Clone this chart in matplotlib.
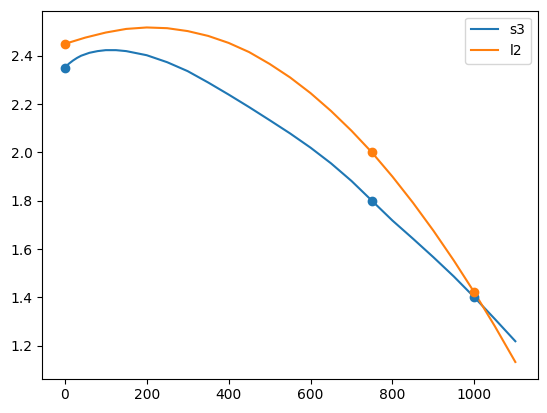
import matplotlib
matplotlib.use("Agg")
import matplotlib.pyplot as plt

# Curve values
s3_x = [0, 5, 10, 20, 30, 40, 60, 80, 100, 125, 150, 200, 250, 300, 350, 400,
        450, 500, 550, 600, 650, 700, 750, 800, 850, 900, 950, 1000, 1050, 1100]
s3_y = [2.35, 2.36, 2.368, 2.381, 2.392, 2.401, 2.413, 2.42, 2.424, 2.424,
        2.42, 2.403, 2.374, 2.337, 2.29, 2.24, 2.188, 2.134, 2.079, 2.02,
        1.955, 1.882, 1.80, 1.718, 1.643, 1.566, 1.486, 1.40, 1.31, 1.218]

l2_x = [0, 50, 100, 150, 200, 250, 300, 350, 400, 450, 500, 550, 600, 650, 700,
        750, 800, 850, 900, 950, 1000, 1050, 1100]
l2_y = [2.45, 2.476, 2.497, 2.512, 2.518, 2.515, 2.503, 2.483, 2.454, 2.416,
        2.367, 2.311, 2.246, 2.172, 2.09, 2.0, 1.90, 1.792, 1.676, 1.552,
        1.42, 1.28, 1.132]

# Marked points
pts_x = [0, 750, 1000]
s3_pts = [2.35, 1.8, 1.4]
l2_pts = [2.45, 2.0, 1.42]

fig = plt.figure(figsize=(5.47, 4.13), dpi=100)
ax = fig.add_axes([0.0773, 0.083, 0.906, 0.891])

ax.plot(s3_x, s3_y, color="C0", label="s3")
ax.plot(l2_x, l2_y, color="C1", label="l2")
ax.plot(pts_x, s3_pts, "o", color="C0")
ax.plot(pts_x, l2_pts, "o", color="C1")

ax.legend(loc="upper right")

fig.savefig("out.png", dpi=100)
